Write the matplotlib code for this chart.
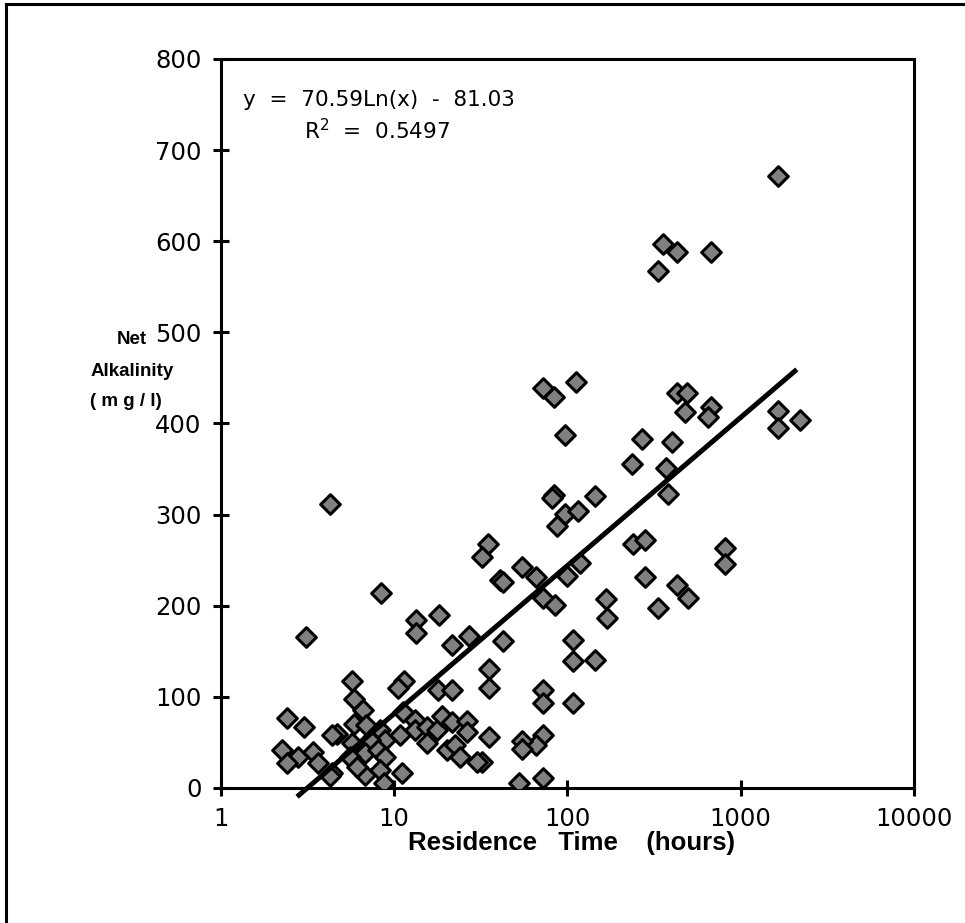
import numpy as np
import matplotlib.pyplot as plt
from matplotlib.lines import Line2D

# residence time (hours) and net alkalinity (mg/l)
res_time = [1648, 357, 430, 673, 334, 112, 72.5, 84, 427, 491,
            476, 673, 645, 1648, 1648, 2198, 96.8, 270, 399, 235,
            370, 84, 82, 144, 382, 4.26, 96.8, 115, 86.6, 34.9,
            32.2, 240, 280, 54.8, 65.8, 40.8, 42.5, 99.7, 118, 280,
            427, 494, 72.5, 84.6, 168, 334, 811, 811, 169, 144,
            108, 108, 107, 72.2, 72.2, 72.2, 65.7, 72.2, 54.7, 54.7,
            52.4, 35.2, 35.2, 35.2, 32.1, 42.4,
            8.4, 13.3, 18.2, 13.3, 3.11, 26.9, 21.7, 5.68, 11.4, 10.5,
            17.8, 21.7, 5.86, 6.58, 11.2, 2.39, 3.01, 5.86, 6.9, 8.27,
            13.2, 13.2, 15.4, 17.6, 18.9, 21.7, 26.2, 26.2, 4.65, 4.35,
            8.85, 10.8, 15.4, 7.25, 5.68, 2.24, 2.79, 2.39, 3.41, 3.65,
            6.78, 8.1, 8.85, 20.1, 22.4, 23.9, 29.9, 5.55, 4.35, 4.26,
            6.78, 8.27, 11.1, 8.72, 6.07]
net_alk = [672, 597, 588, 588, 567, 446, 439, 429, 433, 433,
           413, 418, 407, 414, 395, 404, 387, 383, 380, 356,
           351, 322, 318, 320, 323, 312, 301, 304, 287, 268,
           254, 268, 272, 243, 232, 228, 226, 233, 247, 232,
           223, 208, 208, 201, 207, 197, 263, 246, 187, 140,
           162, 139, 93, 108, 93, 58, 47, 11, 52, 43,
           5.5, 131, 110, 56, 28.5, 161,
           214, 184, 190, 170, 166, 167, 157, 117, 117, 110,
           107.5, 107.5, 97.7, 85.6, 83.4, 76.8, 67.3, 70.2, 69, 63.6,
           74.6, 63.6, 67.3, 63.6, 79, 72.6, 73.9, 61.8, 59.3, 58,
           52.7, 58, 49.4, 52.7, 49, 41.7, 34.3, 27, 39.8, 27,
           38, 41.7, 34.3, 41.7, 47.2, 34.3, 28.9, 34.3, 16.1, 13,
           14.3, 19.8, 16.1, 5.8, 23.4]

# log trendline reported on the chart
fit_a = 70.59
fit_b = -81.03

plt.rcParams['font.family'] = ['DejaVu Sans']
arial = ['Liberation Sans', 'DejaVu Sans']

fig = plt.figure(figsize=(9.65, 9.23), dpi=100)
ax = fig.add_axes([0.229, 0.1463, 0.718, 0.7898])

ax.scatter(res_time, net_alk, marker='D', s=100, facecolor='#808080',
           edgecolor='black', linewidths=2.2, zorder=3)

fx = np.logspace(np.log10(2.75), np.log10(2110), 200)
ax.plot(fx, fit_a * np.log(fx) + fit_b, color='black', lw=3.6,
        zorder=4, clip_on=False, solid_capstyle='butt')

ax.set_xscale('log')
ax.set_xlim(1, 10000)
ax.set_ylim(0, 800)
ax.set_xticks([1, 10, 100, 1000, 10000])
ax.set_xticklabels(['1', '10', '100', '1000', '10000'])
ax.xaxis.set_minor_locator(plt.NullLocator())
ax.set_yticks(range(0, 801, 100))

for s in ax.spines.values():
    s.set_linewidth(2.2)
ax.tick_params(direction='inout', length=12, width=2.2, labelsize=17.5,
               pad=8)

fig.text(0.592, 1 - 843 / 923, 'Residence   Time    (hours)', fontsize=18.5,
         fontweight='bold', family=arial, ha='center', va='center')
# y label sits to the left of the tick labels, as three lines
fig.text(0.137, 1 - 339 / 923, 'Net', fontsize=13.5, fontweight='bold',
         ha='center', va='center', family=arial)
fig.text(0.137, 1 - 371 / 923, 'Alkalinity', fontsize=13.5,
         fontweight='bold', ha='center', va='center', family=arial)
fig.text(0.130, 1 - 402 / 923, '( m g / l)', fontsize=13.5,
         fontweight='bold', ha='center', va='center', family=arial)

ax.text(0.032, 0.935, 'y  =  70.59Ln(x)  -  81.03', transform=ax.transAxes,
        fontsize=15.5)
ax.text(0.12, 0.89, 'R$^2$  =  0.5497', transform=ax.transAxes,
        fontsize=15.5)

# outer chart-area frame (right and bottom fall outside the image)
fig.add_artist(Line2D([0.0065, 0.0065], [-0.1, 1 - 4 / 923],
                      color='black', lw=2.2))
fig.add_artist(Line2D([0.0065, 1.1], [1 - 4 / 923, 1 - 4 / 923],
                      color='black', lw=2.2))

fig.savefig('out.png', dpi=100)
